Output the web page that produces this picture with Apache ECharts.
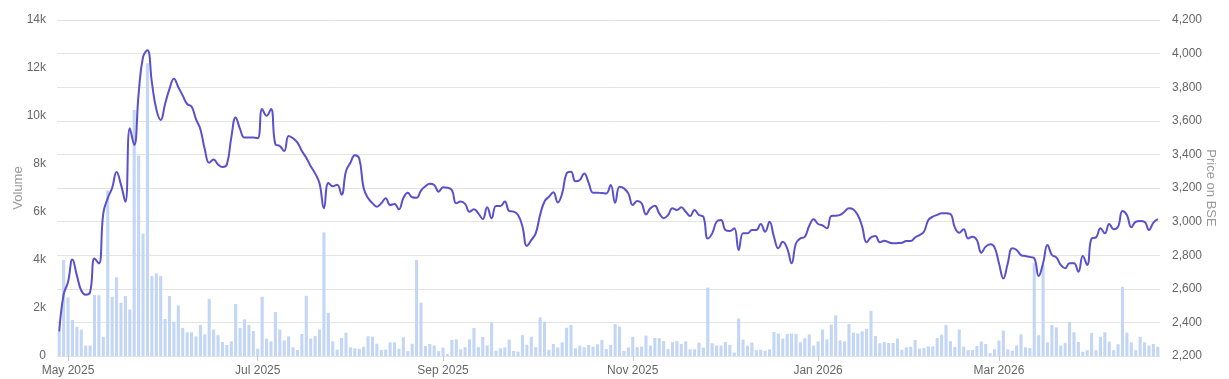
<!DOCTYPE html>
<html>
<head>
<meta charset="utf-8">
<script src="https://cdn.jsdelivr.net/npm/echarts@6/dist/echarts.min.js"></script>
<style>
html,body{margin:0;padding:0;background:#fff;}
#chart{width:1229px;height:379px;}
</style>
</head>
<body>
<div id="chart"></div>
<script>
// ---- Data ----
const startDate = '2025-04-29';
const dayCount = 250;
const holidays = ['2025-08-15','2025-08-27','2025-10-02','2025-10-22','2025-12-25',
  '2026-01-26','2026-03-03','2026-03-26','2026-03-31','2026-04-03','2026-04-14'];
const labelMonths = [0, 2, 4, 6, 8, 10]; // Jan, Mar, May, Jul, Sep, Nov
const monthNames = ['Jan','Feb','Mar','Apr','May','Jun','Jul','Aug','Sep','Oct','Nov','Dec'];

const volume = [
1000,4000,2440,1500,1220,1100,430,430,2540,2530,
800,6900,2470,3280,2220,2500,1940,10250,8350,5100,
12200,3330,3440,3330,1540,2500,1430,2110,1170,990,
990,820,1290,900,2380,1100,870,580,460,610,
2170,1170,1530,1290,1040,300,2470,720,610,1830,
1100,650,820,360,250,920,2510,720,830,1100,
5150,1800,610,260,750,970,360,320,300,390,
820,800,510,250,260,570,570,300,780,200,
510,4000,2220,420,500,440,200,350,80,670,
690,280,370,690,1170,370,790,440,1390,220,
320,360,680,210,180,870,470,800,370,1610,
1430,260,500,360,570,1180,1290,320,430,360,
460,390,490,670,290,460,1330,1220,210,360,
800,370,390,850,430,750,740,620,290,580,
620,500,610,280,280,560,350,2850,530,440,
440,580,460,140,1560,680,430,560,240,260,
220,280,1000,930,720,920,930,920,570,740,
900,430,610,1100,690,1310,1690,650,610,1330,
970,940,1030,1130,1880,830,530,580,540,540,
720,260,360,380,670,310,330,400,400,750,
890,1290,620,380,1100,390,240,250,420,600,
500,120,280,640,1060,280,220,440,900,360,
330,3870,870,3800,570,1290,1190,430,540,1420,
990,580,180,240,960,240,800,990,600,240,
490,2880,970,570,240,800,570,430,500,380
];

const price = [
2345,2565,2640,2775,2680,2590,2565,2580,2780,2750,
3050,3140,3200,3295,3220,3118,3555,3456,3760,3980,
4020,3830,3670,3605,3700,3790,3850,3800,3750,3700,
3685,3610,3550,3430,3350,3370,3340,3325,3340,3500,
3620,3550,3500,3500,3500,3496,3670,3630,3670,3460,
3450,3420,3510,3496,3470,3420,3380,3330,3287,3228,
3079,3230,3210,3220,3160,3300,3350,3395,3375,3200,
3140,3110,3089,3109,3139,3099,3105,3073,3140,3172,
3145,3142,3185,3210,3225,3218,3178,3204,3202,3188,
3109,3119,3105,3059,3073,3049,3015,3085,3020,3093,
3093,3119,3063,3059,3039,2970,2855,2890,2930,3040,
3120,3148,3174,3114,3168,3287,3297,3240,3248,3287,
3231,3172,3172,3170,3168,3218,3112,3208,3198,3168,
3099,3123,3109,3043,3079,3095,3049,3020,3039,3079,
3069,3085,3059,3033,3069,3039,3029,2900,2930,2999,
3009,2950,2944,2960,2831,2930,2930,2950,2950,2986,
2940,2999,2910,2841,2880,2841,2752,2871,2900,2910,
2975,3014,2986,2978,2960,3033,3035,3040,3059,3079,
3072,3039,2970,2877,2906,2914,2877,2886,2877,2871,
2872,2874,2884,2884,2906,2920,2940,3009,3029,3040,
3049,3049,3045,2966,2934,2954,2900,2910,2890,2815,
2851,2865,2847,2752,2662,2752,2841,2831,2801,2795,
2790,2782,2676,2752,2861,2801,2787,2742,2722,2752,
2752,2702,2795,2742,2900,2906,2960,2930,2986,2954,
2970,3063,3039,2966,2999,3003,2999,2950,2994,3015
];

const volumeTicks = { min: 0, max: 14000, step: 2000 };
const priceTicks = { min: 2200, max: 4200, step: 200 };

// ---- Trading-day categories ----
function pad(n){ return (n < 10 ? '0' : '') + n; }
function buildDates(start, count, skip) {
  const out = [];
  const d = new Date(start + 'T00:00:00Z');
  while (out.length < count) {
    const wd = d.getUTCDay();
    const s = d.getUTCFullYear() + '-' + pad(d.getUTCMonth() + 1) + '-' + pad(d.getUTCDate());
    if (wd !== 0 && wd !== 6 && skip.indexOf(s) < 0) out.push(s);
    d.setUTCDate(d.getUTCDate() + 1);
  }
  return out;
}
const dates = buildDates(startDate, dayCount, holidays);

const labelIdx = {};
for (let i = 1; i < dates.length; i++) {
  const m = +dates[i].slice(5, 7) - 1;
  const pm = +dates[i - 1].slice(5, 7) - 1;
  if (m !== pm && labelMonths.indexOf(m) >= 0) labelIdx[i] = true;
}
function monthLabel(v) {
  return monthNames[+v.slice(5, 7) - 1] + ' ' + v.slice(0, 4);
}

const chart = echarts.init(document.getElementById('chart'), null, { renderer: 'canvas' });
const font = 'Liberation Sans, Arial, Helvetica, sans-serif';
chart.setOption({
  animation: false,
  backgroundColor: '#fff',
  textStyle: { fontFamily: font },
  grid: { left: 57, right: 69, top: 20, bottom: 23, containLabel: false, outerBoundsMode: 'none' },
  xAxis: {
    type: 'category',
    data: dates,
    boundaryGap: true,
    axisLine: { show: false },
    axisTick: {
      show: true, alignWithLabel: true, length: 5,
      interval: function (i) { return !!labelIdx[i]; },
      lineStyle: { color: '#c8c8c8' }
    },
    axisLabel: {
      interval: function (i) { return !!labelIdx[i]; },
      formatter: monthLabel,
      color: '#666', fontSize: 12, margin: 9, fontFamily: font
    },
    splitLine: { show: false }
  },
  yAxis: [
    {
      type: 'value', position: 'left',
      min: volumeTicks.min, max: volumeTicks.max, interval: volumeTicks.step,
      name: 'Volume', nameLocation: 'middle', nameGap: 32, nameRotate: 90,
      nameMoveOverlap: false,
      nameTextStyle: { color: '#999', fontSize: 13, fontFamily: font },
      axisLine: { show: false }, axisTick: { show: false },
      axisLabel: {
        color: '#666', fontSize: 12, margin: 11, fontFamily: font,
        formatter: function (v) { return v === 0 ? '0' : (v / 1000) + 'k'; }
      },
      splitLine: { show: false }
    },
    {
      type: 'value', position: 'right',
      min: priceTicks.min, max: priceTicks.max, interval: priceTicks.step,
      name: 'Price on BSE', nameLocation: 'middle', nameGap: 44, nameRotate: -90,
      nameMoveOverlap: false,
      nameTextStyle: { color: '#999', fontSize: 13, fontFamily: font },
      axisLine: { show: false }, axisTick: { show: false },
      axisLabel: {
        color: '#666', fontSize: 12, margin: 12, fontFamily: font,
        formatter: function (v) { return v.toLocaleString('en-US'); }
      },
      splitLine: { show: true, lineStyle: { color: '#e4e4e4', width: 1 } }
    }
  ],
  series: [
    {
      name: 'Volume', type: 'bar', yAxisIndex: 0,
      data: volume, barWidth: '70%',
      itemStyle: { color: '#c3d6f6' }
    },
    {
      name: 'Price', type: 'line', yAxisIndex: 1,
      data: price, smooth: 0.45, showSymbol: false, symbol: 'none',
      lineStyle: { color: '#5a50cc', width: 2 },
      z: 5
    }
  ]
});
</script>
</body>
</html>
